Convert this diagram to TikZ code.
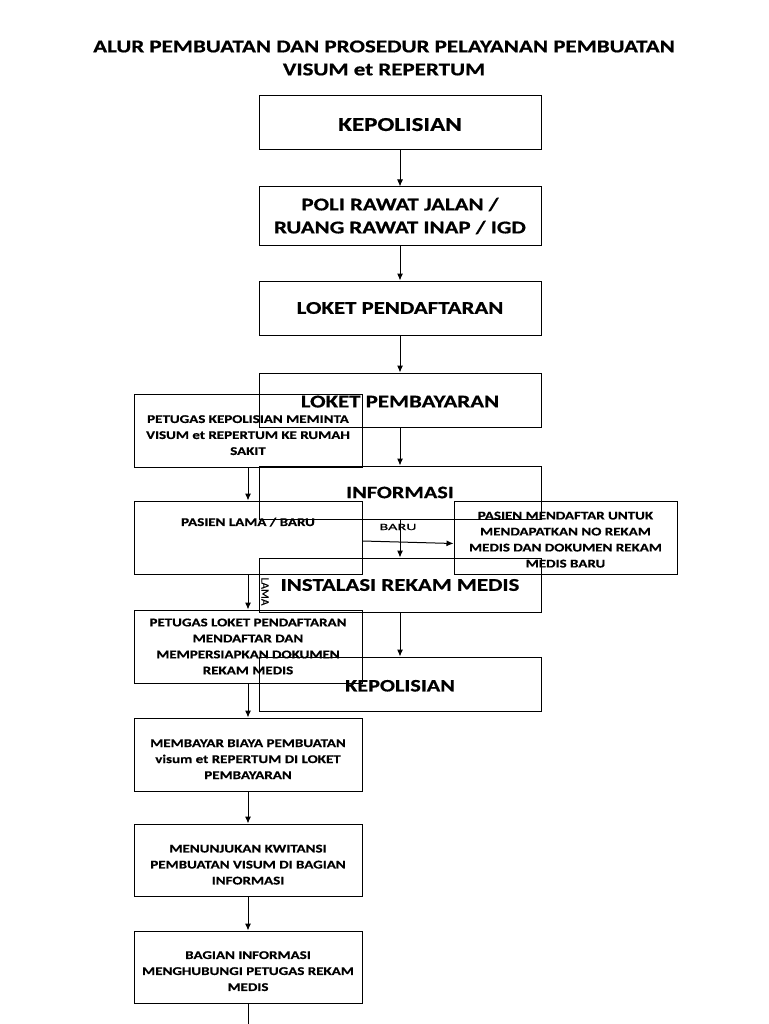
\documentclass[tikz,border=0pt]{standalone}
\usepackage{fontspec}
\setmainfont{Carlito}[FakeStretch=1.27,BoldFeatures={FakeBold=0.6}]
\newfontfamily\lblfont{Carlito}[FakeStretch=1.7,FakeBold=0.3]
\newfontfamily\lamafont{Carlito}[FakeBold=0.3]
\usetikzlibrary{arrows.meta}
\newcommand{\topgap}[1]{\rule{0pt}{#1pt}}
\begin{document}
\begin{tikzpicture}[x=1pt,y=-1pt,
  bigbox/.style={draw,line width=1pt,minimum width=282pt,minimum height=54pt,inner sep=0pt,align=center,font=\fontsize{18}{23}\selectfont\bfseries},
  smallbox/.style={draw,line width=1pt,minimum width=228pt,minimum height=73pt,inner sep=0pt,align=center,font=\fontsize{11.8}{16}\selectfont\bfseries},
  smalltxt/.style={font=\fontsize{11.8}{16}\selectfont\bfseries,inner sep=0pt,align=center},
  arr/.style={-{Latex[length=7pt,width=6pt]},line width=1pt},
  lbl/.style={font=\lblfont\fontsize{9.5}{10}\selectfont,inner sep=0pt},
  lamalbl/.style={font=\lamafont\fontsize{11.5}{12}\selectfont,inner sep=0pt}]
\useasboundingbox (0,0) rectangle (768,1024);
\fill[white] (0,0) rectangle (768,1024);
% title
\node[font=\fontsize{18.1}{23}\selectfont\bfseries,align=center,inner sep=0pt] (title) at (384,58) {ALUR PEMBUATAN DAN PROSEDUR PELAYANAN PEMBUATAN\\VISUM et REPERTUM};
% right column
\node[bigbox,font=\fontsize{19.7}{23}\selectfont\bfseries] (kep1) at (400,122.5) {\topgap{17}KEPOLISIAN};
\node[bigbox,minimum height=58pt] (poli) at (400,216) {POLI RAWAT JALAN /\\RUANG RAWAT INAP / IGD};
\node[bigbox] (daftar) at (400,308) {LOKET PENDAFTARAN};
\node[bigbox] (bayar) at (400,400) {\topgap{15}LOKET PEMBAYARAN};
\node[bigbox,minimum height=53pt,font=\fontsize{17.5}{23}\selectfont\bfseries] (info) at (400,492.5) {INFORMASI};
\node[bigbox] (irm) at (400,585) {INSTALASI REKAM MEDIS};
\node[bigbox,font=\fontsize{17.5}{23}\selectfont\bfseries] (kep2) at (400,684) {\topgap{15}KEPOLISIAN};
\draw[arr] (kep1) -- (poli);
\draw[arr] (poli) -- (daftar);
\draw[arr] (daftar) -- (bayar);
\draw[arr] (bayar) -- (info);
\draw[arr] (info) -- (irm);
\draw[arr] (irm) -- (kep2);
% left column
\node[smallbox] (minta) at (248,430.5) {\topgap{17}PETUGAS KEPOLISIAN MEMINTA\\VISUM et REPERTUM KE RUMAH\\SAKIT};
\node[smallbox,label={[smalltxt,anchor=north,yshift=-17pt]north:PASIEN LAMA / BARU}] (pasien) at (248,537.5) {};
\node[smallbox] (petugas) at (248,646.5) {PETUGAS LOKET PENDAFTARAN\\MENDAFTAR DAN\\MEMPERSIAPKAN DOKUMEN\\REKAM MEDIS};
\node[smallbox] (membayar) at (248,754.5) {\topgap{17}MEMBAYAR BIAYA PEMBUATAN\\visum et REPERTUM DI LOKET\\PEMBAYARAN};
\node[smallbox,minimum height=72pt] (kwitansi) at (248,860) {\topgap{17}MENUNJUKAN KWITANSI\\PEMBUATAN VISUM DI BAGIAN\\INFORMASI};
\node[smallbox,minimum height=72pt] (bagian) at (248,967) {\topgap{16}BAGIAN INFORMASI\\MENGHUBUNGI PETUGAS REKAM\\MEDIS};
\node[smallbox,minimum width=223pt] (baru) at (565.5,537.5) {\topgap{12}PASIEN MENDAFTAR UNTUK\\MENDAPATKAN NO REKAM\\MEDIS DAN DOKUMEN REKAM\\MEDIS BARU};
\coordinate (end) at (248,1024);
\draw[arr] (minta) -- (pasien);
\draw[arr] (pasien) -- (petugas);
\draw[arr] (petugas) -- (membayar);
\draw[arr] (membayar) -- (kwitansi);
\draw[arr] (kwitansi) -- (bagian);
\draw[line width=1pt] (bagian) -- (end);
\draw[arr] (pasien.east |- 0,541) -- (baru.west |- 0,543.5);
\node[lbl] (lblbaru) at (398,527) {BARU};
\node[lamalbl,rotate=-90] (lbllama) at (265,591.5) {LAMA};
\end{tikzpicture}
\end{document}
